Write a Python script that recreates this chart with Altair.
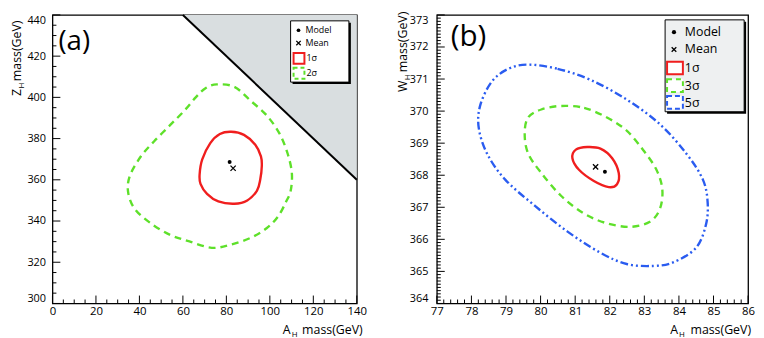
import altair as alt
import pandas as pd

FONT = "Open Sans"

# ---------------- panel (a) values ----------------
A_XTICKS = [0, 20, 40, 60, 80, 100, 120, 140]
A_YTICKS = [300, 320, 340, 360, 380, 400, 420, 440]
A_XMINOR = [v for v in range(0, 141, 5) if v % 20]
A_YMINOR = [v for v in range(300, 441, 5) if v % 20]

A_RED_X = [82.2, 88.1, 93.3, 95.9, 96.3, 95.6, 94.1, 89.6, 83.7, 76.3, 71.1, 68.1, 67.7, 68.9, 72.6, 77.0]
A_RED_Y = [383.3, 381.8, 377.0, 371.4, 366.7, 360.3, 354.8, 350.0, 348.4, 349.5, 353.2, 358.0, 362.7, 369.9, 377.8, 382.2]

A_GREEN_X = [75.6, 83.7, 91.1, 98.5, 104.4, 108.1, 110.1, 109.6, 107.4, 103.7, 98.5, 91.1, 82.2,
             73.3, 63.0, 54.1, 45.2, 37.8, 34.8, 35.6, 40.7, 46.7, 54.1, 60.8, 65.9, 70.4]
A_GREEN_Y = [406.3, 405.1, 398.4, 391.3, 382.5, 373.0, 363.5, 354.8, 349.2, 342.1, 336.5, 331.8, 328.6,
             327.0, 330.1, 333.3, 338.9, 346.0, 354.0, 361.9, 371.4, 378.6, 386.5, 393.7, 400.0, 404.4]

A_MODEL = (81.5, 368.6)
A_MEAN = (83.1, 365.6)

A_BOUND_X = [60, 140]
A_BOUND_Y = [440, 360]
A_BOUND_TOP = [440, 440]

# ---------------- panel (b) values ----------------
B_XTICKS = [77, 78, 79, 80, 81, 82, 83, 84, 85, 86]
B_YTICKS = [364, 365, 366, 367, 368, 369, 370, 371, 372, 373]
B_XMINOR = [round(77 + 0.2 * i, 1) for i in range(46) if i % 5]
B_YMINOR = [round(364 + 0.1 * i, 1) for i in range(91) if i % 10]

B_RED_X = [81.35, 81.73, 82.07, 82.26, 82.21, 81.97, 81.54, 81.11, 80.92, 81.02]
B_RED_Y = [368.88, 368.83, 368.53, 368.07, 367.72, 367.63, 367.82, 368.17, 368.53, 368.80]

B_GREEN_X = [80.59, 81.26, 81.92, 82.49, 82.97, 83.35, 83.52, 83.45, 83.16, 82.59, 81.92, 81.26,
             80.59, 80.02, 79.64, 79.54, 79.64, 80.02]
B_GREEN_Y = [370.16, 370.10, 369.80, 369.39, 368.78, 368.17, 367.56, 366.95, 366.55, 366.39, 366.50, 366.80,
             367.36, 368.07, 368.68, 369.29, 369.80, 370.05]

B_BLUE_X = [79.64, 80.49, 81.45, 82.49, 83.45, 84.21, 84.69, 84.83, 84.78, 84.49, 83.83, 83.26, 82.49,
            81.73, 80.78, 79.83, 78.97, 78.45, 78.21, 78.26, 78.59, 79.07]
B_BLUE_Y = [371.45, 371.32, 370.97, 370.36, 369.59, 368.68, 367.87, 367.16, 366.45, 365.73, 365.28, 365.17,
            365.23, 365.58, 366.24, 367.05, 367.87, 368.68, 369.49, 370.20, 370.92, 371.32]

B_MODEL = (81.86, 368.11)
B_MEAN = (81.59, 368.26)

LEGEND_A = ["Model", "Mean", "1σ", "2σ"]
LEGEND_B = ["Model", "Mean", "1σ", "3σ", "5σ"]

RED = "#f01e1e"
GREEN = "#5ee02a"
BLUE = "#2a5cf0"
GRAY = "#d9dee0"
CROSS = "M-1,-1L1,1M-1,1L1,-1"

ONE = pd.DataFrame({"k": [0]})


def cdf(xs, ys):
    return pd.DataFrame({"x": xs, "y": ys, "i": list(range(len(xs)))})


def text(t, x, y, size, align="left", baseline="middle", angle=0):
    return alt.Chart(ONE).mark_text(text=t, font=FONT, fontSize=size, color="black",
                                    align=align, baseline=baseline, angle=angle).encode(
        x=alt.value(x), y=alt.value(y))


def rect(x1, x2, y1, y2, **kw):
    return alt.Chart(ONE).mark_rect(**kw).encode(
        x=alt.value(x1), x2=alt.value(x2), y=alt.value(y1), y2=alt.value(y2))


def sym(x, y, shape, filled, size, sw=1.3):
    return alt.Chart(ONE).mark_point(shape=shape, filled=filled, size=size, color="black",
                                     strokeWidth=sw, opacity=1).encode(x=alt.value(x), y=alt.value(y))


def axis(values, pad, flush, size):
    return alt.Axis(values=values, title=None, ticks=False, domain=False, grid=False,
                    labelPadding=pad, labelFlush=flush, labelFont=FONT, labelFontSize=size,
                    labelColor="black")


class Panel:
    def __init__(self, xdom, ydom, xt, yt, ypad):
        self.xsc = alt.Scale(domain=xdom, nice=False, zero=False)
        self.ysc = alt.Scale(domain=ydom, nice=False, zero=False)
        self.xax = axis(xt, 2, False, 11.5)
        self.yax = axis(yt, ypad, True, 11)

    def X(self, f="x"):
        return alt.X(f + ":Q", scale=self.xsc, axis=self.xax)

    def Y(self, f="y"):
        return alt.Y(f + ":Q", scale=self.ysc, axis=self.yax)

    def contour(self, xs, ys, color, dash=None):
        kw = dict(color=color, strokeWidth=2.4, interpolate="cardinal-closed")
        if dash:
            kw["strokeDash"] = dash
        return alt.Chart(cdf(xs, ys)).mark_line(**kw).encode(
            x=self.X(), y=self.Y(), order=alt.Order("i:Q"))

    def point(self, pt, shape, filled, size):
        return alt.Chart(pd.DataFrame({"x": [pt[0]], "y": [pt[1]]})).mark_point(
            shape=shape, filled=filled, size=size, color="black", strokeWidth=1.3, opacity=1).encode(
            x=self.X(), y=self.Y())

    def ticks(self, xmaj, xmin, ymaj, ymin, H):
        out = []
        for vals, L in ((xmaj, 8), (xmin, 4)):
            out.append(alt.Chart(pd.DataFrame({"x": vals})).mark_rule(color="black", strokeWidth=1).encode(
                x=self.X(), y=alt.value(H), y2=alt.value(H - L)))
        for vals, L in ((ymaj, 8), (ymin, 4)):
            out.append(alt.Chart(pd.DataFrame({"y": vals})).mark_rule(color="black", strokeWidth=1).encode(
                y=self.Y(), x=alt.value(0), x2=alt.value(L)))
        return out


# ---------------- panel (a) ----------------
WA, HA = 308, 292
pa = Panel([0, 140], [300, 440], A_XTICKS, A_YTICKS, 7)

bound = pd.DataFrame({"x": A_BOUND_X, "y": A_BOUND_Y, "top": A_BOUND_TOP})
a_layers = [
    alt.Chart(bound).mark_area(color=GRAY, opacity=1).encode(
        x=pa.X(), y=pa.Y(), y2=alt.Y2("top:Q")),
    alt.Chart(bound).mark_line(color="black", strokeWidth=2).encode(x=pa.X(), y=pa.Y()),
    pa.contour(A_GREEN_X, A_GREEN_Y, GREEN, [7, 5]),
    pa.contour(A_RED_X, A_RED_Y, RED),
    pa.point(A_MODEL, "circle", True, 16),
    pa.point(A_MEAN, CROSS, False, 28),
]
a_layers += pa.ticks(A_XTICKS, A_XMINOR, A_YTICKS, A_YMINOR, HA)
a_layers += [
    # legend
    rect(243, 302, 8, 70, fill="black"),
    rect(241, 300, 6, 68, fill="white", stroke="black", strokeWidth=1),
    sym(249, 15.5, "circle", True, 14),
    sym(249, 28.5, CROSS, False, 20),
    rect(244, 255, 38.5, 49.5, fill="white", stroke=RED, strokeWidth=2),
    rect(244, 255, 53.5, 64.5, fill="white", stroke=GREEN, strokeWidth=2, strokeDash=[4, 3]),
    text(LEGEND_A[0], 256, 15.5, 9),
    text(LEGEND_A[1], 256, 28.5, 9),
    text(LEGEND_A[2], 257, 44, 9),
    text(LEGEND_A[3], 257, 59, 9),
    # panel tag
    text("(a)", 6, 35, 28, baseline="alphabetic"),
    # x title
    text("A", 241, 323, 12.5, align="right", baseline="alphabetic"),
    text("H", 248, 326, 8, align="right", baseline="alphabetic"),
    text("mass(GeV)", 314, 323, 12.5, align="right", baseline="alphabetic"),
    # y title (rotated, reading upward)
    text("Z", -42, 82, 12.5, baseline="top", angle=270),
    text("H", -35, 74.5, 8, baseline="top", angle=270),
    text("mass(GeV)", -42, 67, 12.5, baseline="top", angle=270),
]
panel_a = alt.layer(*a_layers).properties(width=WA, height=HA)

# ---------------- panel (b) ----------------
WB, HB = 315, 292
pb = Panel([77, 86], [364, 373], B_XTICKS, B_YTICKS, 9)

b_layers = [
    pb.contour(B_BLUE_X, B_BLUE_Y, BLUE, [8, 3, 2, 3, 2, 3]),
    pb.contour(B_GREEN_X, B_GREEN_Y, GREEN, [7, 5]),
    pb.contour(B_RED_X, B_RED_Y, RED),
    pb.point(B_MODEL, "circle", True, 16),
    pb.point(B_MEAN, CROSS, False, 28),
]
b_layers += pb.ticks(B_XTICKS, B_XMINOR, B_YTICKS, B_YMINOR, HB)
b_layers += [
    rect(233, 313, 7, 100, fill="black"),
    rect(231, 311, 5, 98, fill="#eef0f1", stroke="black", strokeWidth=1),
    sym(240, 17.5, "circle", True, 18),
    sym(240, 35, CROSS, False, 22),
    rect(233, 249, 47.5, 60, fill="white", stroke=RED, strokeWidth=2),
    rect(233, 249, 65, 78, fill="white", stroke=GREEN, strokeWidth=2, strokeDash=[5, 4]),
    rect(233, 249, 82, 95, fill="white", stroke=BLUE, strokeWidth=2, strokeDash=[5, 3]),
    text(LEGEND_B[0], 251, 17.5, 12.5),
    text(LEGEND_B[1], 251, 35, 12.5),
    text(LEGEND_B[2], 251, 54, 12.5),
    text(LEGEND_B[3], 251, 72, 12.5),
    text(LEGEND_B[4], 251, 89, 12.5),
    text("(b)", 14, 31, 30, baseline="alphabetic"),
    text("A", 244, 323, 12.5, align="right", baseline="alphabetic"),
    text("H", 251, 326, 8, align="right", baseline="alphabetic"),
    text("mass(GeV)", 318, 323, 12.5, align="right", baseline="alphabetic"),
    text("W", -40, 78, 12.5, baseline="top", angle=270),
    text("H", -33, 66, 8, baseline="top", angle=270),
    text("mass(GeV)", -40, 58, 12.5, baseline="top", angle=270),
]
panel_b = alt.layer(*b_layers).properties(width=WB, height=HB)

chart = alt.hconcat(panel_a, panel_b, spacing=81, bounds="flush").properties(
    padding={"left": 2, "top": 0, "right": 0, "bottom": 0}
).configure_view(stroke="black", strokeWidth=1.3)

chart.save("out.html", embed_options={"renderer": "svg", "actions": False})
